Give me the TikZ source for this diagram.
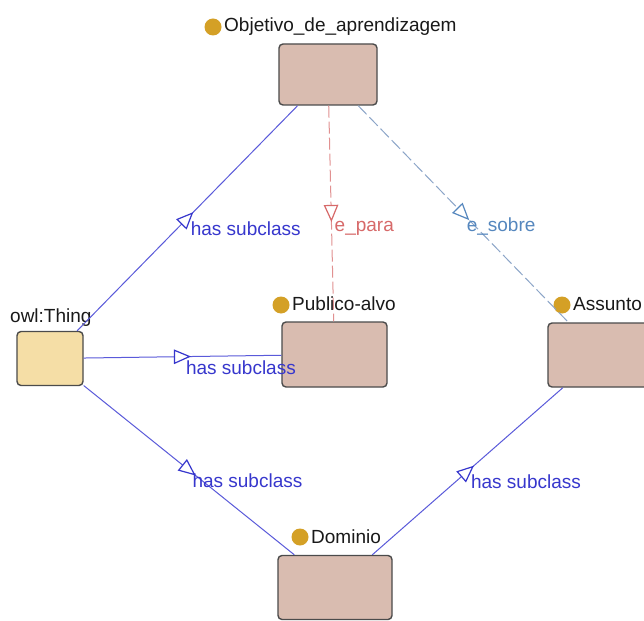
\documentclass[tikz,border=0pt]{standalone}
\usepackage{fontspec}
\setmainfont{Liberation Sans}
\usetikzlibrary{decorations.markings}

\definecolor{clsfill}{RGB}{217,188,176}
\definecolor{thingfill}{RGB}{245,222,166}
\definecolor{clsborder}{RGB}{75,75,75}
\definecolor{dotgold}{RGB}{212,160,38}
\definecolor{subline}{RGB}{90,90,218}
\definecolor{subtext}{RGB}{55,55,205}
\definecolor{paraline}{RGB}{225,145,145}
\definecolor{paratext}{RGB}{215,105,105}
\definecolor{sobreline}{RGB}{140,165,200}
\definecolor{sobretext}{RGB}{85,135,190}
\definecolor{nametext}{RGB}{25,25,25}

\tikzset{
  cls/.style={draw=clsborder, line width=1.4pt, fill=clsfill, rounded corners=4pt, inner sep=0pt},
  thingbox/.style={cls, fill=thingfill},
  gdot/.style={circle, fill=dotgold, inner sep=0pt, minimum size=17pt},
  cname/.style={anchor=base west, inner sep=0pt, text=nametext, font=\fontsize{19}{22}\selectfont},
  elabel/.style={anchor=north west, inner sep=3pt, text height=14pt, text depth=4pt, font=\fontsize{19}{22}\selectfont},
  midtri/.style={decoration={markings, mark=at position 0.5 with {\draw[solid, line width=1.2pt, fill=white, draw=#1] (-8pt,-6.5pt) -- (7pt,0pt) -- (-8pt,6.5pt) -- cycle;}}, postaction=decorate},
  subedge/.style={draw=subline, line width=1pt, midtri=subtext},
  paraedge/.style={draw=paraline, line width=1pt, dash pattern=on 12pt off 4pt, midtri=paratext},
  sobreedge/.style={draw=sobreline, line width=1pt, dash pattern=on 12pt off 4pt, midtri=sobretext},
}

\begin{document}
\begin{tikzpicture}[x=1pt, y=-1pt]
  \useasboundingbox (0,0) rectangle (644,620);
  \clip (0,0) rectangle (644,620);
  \fill[white] (0,0) rectangle (644,620);

  % class boxes
  \node[cls, minimum width=98pt, minimum height=61pt] (obj) at (328,74.5) {};
  \node[thingbox, minimum width=66pt, minimum height=54pt] (thing) at (50,358.5) {};
  \node[cls, minimum width=105pt, minimum height=65pt] (pub) at (334.5,354.5) {};
  \node[cls, minimum width=104pt, minimum height=64pt] (ass) at (600,355) {};
  \node[cls, minimum width=114pt, minimum height=64pt] (dom) at (335,587.5) {};

  % class names with their markers
  \node[gdot] (objdot) at (213,27) {};
  \node[cname] (objname) at (224,32) {Objetivo\_de\_aprendizagem};
  \node[cname] (thingname) at (10,322) {owl:Thing};
  \node[gdot] (pubdot) at (281,305) {};
  \node[cname] (pubname) at (292,310) {Publico-alvo};
  \node[gdot] (assdot) at (562,305) {};
  \node[cname] (assname) at (573,310) {Assunto};
  \node[gdot] (domdot) at (300,537) {};
  \node[cname] (domname) at (311,543) {Dominio};

  % subclass relations
  \draw[subedge] (thing) -- node[elabel, text=subtext] {has subclass} (obj);
  \draw[subedge] (thing) -- node[elabel, text=subtext] {has subclass} (pub);
  \draw[subedge] (thing) -- node[elabel, text=subtext] {has subclass} (dom);
  \draw[subedge] (dom) -- node[elabel, text=subtext] {has subclass} (ass);

  % object properties
  \draw[paraedge] (obj) -- node[elabel, text=paratext] {e\_para} (pub);
  \draw[sobreedge] (obj) -- node[elabel, text=sobretext] {e\_sobre} (ass);
\end{tikzpicture}
\end{document}
